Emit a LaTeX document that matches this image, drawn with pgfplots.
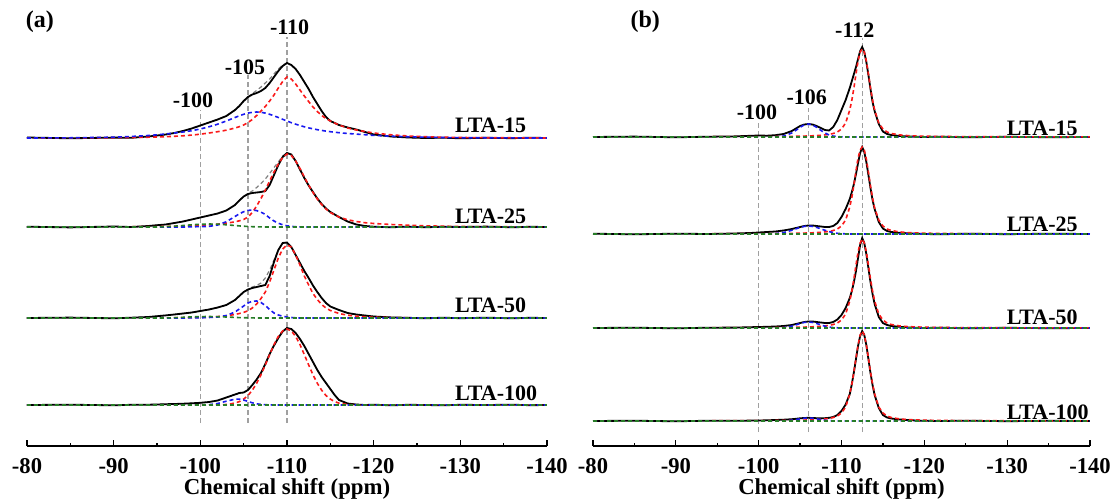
\documentclass[border=0pt]{standalone}
\usepackage{pgfplots}
\pgfplotsset{compat=1.18}
\usepackage{pgfplotstable}
\usepackage{fontspec}
\setmainfont{Liberation Serif}
\definecolor{myred}{RGB}{250,25,25}
\definecolor{myblue}{RGB}{25,25,240}
\definecolor{mygreen}{RGB}{40,125,40}
\definecolor{refgray}{RGB}{160,160,160}

% ---------- panel (a) ----------
\pgfplotstableread{
x k r b f
-80 0.5 0 0 0.5
-85 -0.3 0.1 0.2 -0.3
-90 0.4 0.3 0.8 0.4
-92 0.2 0.5 1.5 0.2
-94 1.5 0.8 2.5 1.5
-95 2.5 1.0 3.2 2.5
-96 3.5 1.3 4.0 3.5
-97 5 1.7 5.0 5
-98 7 2.2 6.0 7
-99 9.5 2.9 7.3 9.5
-100 12.5 3.8 9.0 12.5
-101 15.5 5.0 11.2 15.5
-102 18.5 6.3 13.8 18.5
-103 22 7.8 17.0 22
-104 28 10 20.5 28
-104.5 32 11.3 22.2 32
-105 37 13 23.7 37
-105.5 41 15.5 24.9 41
-106 43.5 18.5 25.7 44.5
-106.5 45 22.5 26 47.5
-107 47 27 25.7 51
-107.5 50 31.5 24.9 55
-108 55 37 23.7 59
-108.5 61 43 22.2 64
-109 67 50 20.5 69
-109.5 72 56.5 18.7 73
-110 75 61 17.0 75
-110.5 73 59 15.3 73
-111 69 54 13.8 69
-111.5 63 48 12.5 63
-112 56 42 11.2 56
-112.5 49 36.5 10.1 49
-113 41 31 9.2 41
-113.5 34 26.5 8.3 34
-114 27 22.5 7.6 27
-114.5 21 19.5 6.9 21
-115 17 17 6.3 17
-116 13 13 5.3 13
-117 10.5 10 4.5 10.5
-118 8.5 8 3.9 8.5
-119 6 6.5 3.3 6
-120 3.5 5 2.6 3.5
-122 1.5 3.2 1.8 1.5
-124 0.5 2.0 1.2 0.5
-126 0 1.3 0.8 0
-128 0.3 0.8 0.5 0.3
-130 -0.3 0.5 0.3 -0.3
-133 0.2 0.3 0.2 0.2
-136 -0.2 0.2 0.1 -0.2
-138 0.3 0.1 0 0.3
-140 0 0 0 0
}\aA

\pgfplotstableread{
x k r b g f
-80 0.3 0 0 0 0.3
-85 -0.4 0 0 0 -0.4
-90 0.5 0.1 0 0 0.5
-92 0 0.2 0 0 0
-94 1 0.3 0 0 1
-95 1.8 0.4 0 0 1.8
-96 2.5 0.5 0 0.3 2.5
-97 4 0.7 0 0.8 4
-98 5.5 0.9 0 1.5 5.5
-99 7.5 1.2 0.2 2.2 7.5
-100 9.5 1.6 0.4 2.8 9.5
-101 11.5 2.1 0.6 3 11.5
-102 13.5 2.8 2 2.8 13.5
-103 16.5 3.8 5.3 2.2 16.5
-104 22 5.2 10.5 1.5 22
-104.5 26.5 6.2 13.2 1.1 26.5
-105 30.5 7.5 15.3 0.8 30.5
-105.5 33 10 16.6 0.5 33.5
-106 34 14.5 17 0.3 36
-106.5 34.5 21 16.4 0.2 39.5
-107 35 28.5 14.8 0.1 43.5
-107.5 36 37 12.6 0 48
-108 42 46 9 0 53.5
-108.5 52 55 6 0 59.5
-109 62 63 3.8 0 65
-109.5 70 69.5 2.2 0 71
-110 74 73 1.2 0 74
-110.5 72.5 71.5 0.6 0 72.5
-111 66 66 0.3 0 66
-111.5 57.5 58.5 0.1 0 57.5
-112 49 50 0 0 49
-112.5 41.5 42 0 0 41.5
-113 35 34.5 0 0 35
-113.5 28.5 28 0 0 28.5
-114 23 22.5 0 0 23
-114.5 18.5 18 0 0 18.5
-115 15 14.5 0 0 15
-116 10 10 0 0 10
-117 5.5 7.2 0 0 5.5
-118 2.5 5.5 0 0 2.5
-119 1 4.3 0 0 1
-120 0.3 3.5 0 0 0.3
-122 -0.3 2.5 0 0 -0.3
-124 0.4 1.8 0 0 0.4
-126 -0.3 1.2 0 0 -0.3
-128 0.3 0.8 0 0 0.3
-130 0 0.5 0 0 0
-133 0.4 0.3 0 0 0.4
-136 -0.3 0.2 0 0 -0.3
-138 0.2 0.1 0 0 0.2
-140 0 0 0 0 0
}\aB

\pgfplotstableread{
x k r b g f
-80 0 0 0 0 0
-85 0.4 0 0 0 0.4
-90 -0.3 0 0 0 -0.3
-92 0.3 0 0 0 0.3
-94 1 0 0 0 1
-95 1.8 0.1 0 0 1.8
-96 2.6 0.1 0 0 2.6
-97 3.5 0.2 0 0.3 3.5
-98 4.5 0.3 0 0.7 4.5
-99 5.5 0.4 0.1 1.1 5.5
-100 7 0.6 0.2 1.4 7
-101 8.5 0.9 0.5 1.5 8.5
-102 10.5 1.4 1 1.3 10.5
-103 13 2.2 2.5 1 13
-104 18 3.5 6 0.6 18
-104.5 22 4.5 9 0.4 22
-105 26 5.6 12 0.3 26
-105.5 28.5 7.2 15 0.2 28.5
-106 30 10 16.8 0.1 31
-106.5 31 14 17 0 32.5
-107 32 19.5 15.5 0 35
-107.5 33 26 12.5 0 40
-108 42 36 8.5 0 48
-108.5 56 48 5 0 58
-109 68 60 3 0 68
-109.5 75 69 1.8 0 75
-110 75.5 73 1 0 75.5
-110.5 71 71 0.5 0 71
-111 63 63 0.2 0 63
-111.5 55 53 0 0 55
-112 47 42 0 0 47
-112.5 40 33 0 0 40
-113 32.5 24.5 0 0 32.5
-113.5 26 18.5 0 0 26
-114 20 13.5 0 0 20
-114.5 15 10 0 0 15
-115 11.5 7.5 0 0 11.5
-116 8 4.5 0 0 8
-117 5 2.8 0 0 5
-118 3.5 1.8 0 0 3.5
-119 2.5 1.2 0 0 2.5
-120 1.5 0.8 0 0 1.5
-122 0.6 0.4 0 0 0.6
-124 0.2 0.2 0 0 0.2
-126 -0.3 0.1 0 0 -0.3
-128 0.3 0 0 0 0.3
-130 -0.2 0 0 0 -0.2
-133 0.3 0 0 0 0.3
-136 -0.3 0 0 0 -0.3
-138 0.2 0 0 0 0.2
-140 0 0 0 0 0
}\aC

\pgfplotstableread{
x k r b f
-80 0 0 0 0
-85 0.3 0 0 0.3
-90 -0.3 0 0 -0.3
-92 0.2 0 0 0.2
-94 0.3 0 0 0.3
-95 0.5 0 0 0.5
-96 0.8 0 0 0.8
-97 1 0 0 1
-98 1.3 0 0 1.3
-99 1.7 0 0 1.7
-100 2.2 0 0 2.2
-101 3 0 0.3 3
-102 4.5 0.1 1.5 4.5
-103 7.5 0.5 3.8 7.5
-104 10.5 1.9 5.8 10.5
-104.5 12 3.4 5.9 12
-105 12.5 5.9 5 12.5
-105.5 15 9.5 3.6 15
-106 20 14.8 2.2 20
-106.5 25.5 21.7 1.2 25.5
-107 32 30.2 0.6 32
-107.5 41 40.1 0.3 41
-108 51 50.4 0.1 51
-108.5 59.5 60.4 0 59.5
-109 67 68.6 0 67
-109.5 73.5 74.1 0 73.5
-110 77 76 0 77
-110.5 76 74.1 0 76
-111 72 68.6 0 72
-111.5 66 60.4 0 66
-112 59 50.4 0 59
-112.5 51 40.1 0 51
-113 43 30.2 0 43
-113.5 35 21.7 0 35
-114 28 14.8 0 28
-114.5 22 9.5 0 22
-115 16 5.9 0 16
-115.5 10 3.4 0 10
-116 5 1.9 0 5
-117 1.5 0.5 0 1.5
-118 0.5 0.1 0 0.5
-119 0 0 0 0
-120 0.3 0 0 0.3
-122 -0.3 0 0 -0.3
-124 0.2 0 0 0.2
-126 0 0 0 0
-128 -0.3 0 0 -0.3
-130 0.2 0 0 0.2
-133 0 0 0 0
-136 0.3 0 0 0.3
-138 -0.2 0 0 -0.2
-140 0 0 0 0
}\aD

% ---------- panel (b) ----------
\pgfplotstableread{
x k r b
-80 0 0.1 0
-85 0.4 0.1 0
-90 -0.3 0.15 0
-94 0.3 0.2 0
-97 0.6 0.25 0
-99 1.2 0.3 0
-100 1.5 0.35 0
-101 1.3 0.4 0
-102 1.8 0.45 0.1
-103 3 0.55 0.9
-104 6 0.65 4.0
-104.5 8.5 0.7 6.7
-105 11 0.8 9.7
-105.5 12.5 0.9 12.1
-106 13 1.05 13
-106.5 12.5 1.2 12.1
-107 11 1.4 9.7
-107.5 9 1.7 6.7
-108 7 2.1 4.0
-108.5 6.5 2.6 2.0
-109 10 3.5 0.9
-109.5 17 5 0.35
-110 27 8 0.1
-110.5 37 14 0
-111 49 27 0
-111.25 56 37 0
-111.5 63 49 0
-111.75 70 63 0
-112 78 76 0
-112.25 86 85 0
-112.5 90 88 0
-112.75 85 85 0
-113 75 76 0
-113.25 62 63 0
-113.5 48 49 0
-113.75 35 37 0
-114 26 27 0
-114.5 13 14 0
-115 5.5 8 0
-115.5 3 5 0
-116 2 3.5 0
-117 1 2.1 0
-118 0.6 1.4 0
-119 0.3 1.05 0
-120 0 0.8 0
-122 0.3 0.55 0
-125 -0.3 0.35 0
-130 0.2 0.2 0
-135 -0.2 0.15 0
-140 0 0.1 0
}\bA

\pgfplotstableread{
x k r b
-80 0.3 0.1 0
-85 -0.3 0.1 0
-90 0.3 0.15 0
-94 0 0.2 0
-97 0.5 0.25 0
-99 1 0.3 0
-100 1.5 0.35 0
-101 2 0.4 0
-102 2.5 0.45 0.35
-103 3.5 0.55 1.4
-104 5 0.65 3.7
-104.5 6 0.7 5.2
-105 7 0.8 6.6
-105.5 8 0.9 7.6
-106 8.5 1.05 8
-106.5 8.5 1.2 7.6
-107 8 1.4 6.6
-107.5 7.5 1.7 5.2
-108 7 2.1 3.7
-108.5 7 2.6 2.4
-109 8 3.5 1.4
-109.5 11 5 0.7
-110 17 8 0.35
-110.5 25 14 0.15
-111 35 27 0
-111.25 42 37 0
-111.5 50 49 0
-111.75 60 63 0
-112 71 76 0
-112.25 81 84 0
-112.5 87 87 0
-112.75 82 84 0
-113 72 75 0
-113.25 59 62 0
-113.5 46 48 0
-113.75 34 36 0
-114 25 26 0
-114.5 12 14 0
-115 5.5 8 0
-115.5 3 5 0
-116 2 3.5 0
-117 1.2 2.1 0
-118 0.7 1.4 0
-119 0.3 1.05 0
-120 0 0.8 0
-122 -0.3 0.55 0
-125 0.3 0.35 0
-130 -0.2 0.2 0
-135 0.3 0.15 0
-140 0 0.1 0
}\bB

\pgfplotstableread{
x k r b
-80 0 0.1 0
-85 0.3 0.1 0
-90 -0.3 0.15 0
-94 0.3 0.2 0
-97 0.4 0.25 0
-99 0.8 0.3 0
-100 1 0.35 0
-101 1.2 0.4 0
-102 1.5 0.45 0
-103 2 0.55 0.4
-104 3 0.65 1.8
-104.5 4 0.7 3.1
-105 5 0.8 4.5
-105.5 6 0.9 5.6
-106 6.5 1.05 6
-106.5 6.5 1.2 5.6
-107 6 1.4 4.5
-107.5 5.5 1.7 3.1
-108 5 2.1 1.8
-108.5 5 2.6 0.9
-109 6 3.5 0.4
-109.5 8.5 5 0.2
-110 13 8 0
-110.5 20 14 0
-111 30 27 0
-111.25 37 37 0
-111.5 46 49 0
-111.75 57 63 0
-112 70 76 0
-112.25 83 85 0
-112.5 90 89 0
-112.75 85 85 0
-113 74 76 0
-113.25 60 63 0
-113.5 46 49 0
-113.75 34 37 0
-114 24 27 0
-114.5 11 14 0
-115 5 8 0
-115.5 3 5 0
-116 2 3.5 0
-117 1.2 2.1 0
-118 0.6 1.4 0
-119 0.3 1.05 0
-120 0 0.8 0
-122 0.3 0.55 0
-125 -0.3 0.35 0
-130 0.2 0.2 0
-135 -0.2 0.15 0
-140 0 0.1 0
}\bC

\pgfplotstableread{
x k r b
-80 0 0.1 0
-85 0.3 0.1 0
-90 -0.3 0.15 0
-94 0.3 0.2 0
-97 0.2 0.25 0
-99 0.4 0.3 0
-100 0.5 0.35 0
-101 0.7 0.4 0
-102 1 0.45 0
-103 1.3 0.55 0.13
-104 1.8 0.65 0.75
-104.5 2.2 0.7 1.4
-105 2.7 0.8 2.2
-105.5 3 0.9 2.75
-106 3.2 1.05 3
-106.5 3 1.2 2.75
-107 2.8 1.4 2.2
-107.5 2.6 1.7 1.4
-108 2.8 2.1 0.75
-108.5 3.2 2.6 0.34
-109 4 3.5 0.13
-109.5 6 5 0
-110 10 8 0
-110.5 16.5 14 0
-111 27 27 0
-111.25 37 37 0
-111.5 49 49 0
-111.75 62 63 0
-112 75 76 0
-112.25 85 86 0
-112.5 90 90 0
-112.75 86 86 0
-113 76 76 0
-113.25 62 63 0
-113.5 48 49 0
-113.75 36 37 0
-114 26 27 0
-114.5 13 14 0
-115 6 8 0
-115.5 3.5 5 0
-116 2.5 3.5 0
-117 1.5 2.1 0
-118 1 1.4 0
-119 0.5 1.05 0
-120 0.2 0.8 0
-122 0 0.55 0
-125 0.3 0.35 0
-130 -0.2 0.2 0
-135 0.2 0.15 0
-140 0 0.1 0
}\bD

\tikzset{
  lab/.style={font=\fontsize{11}{13}\selectfont\bfseries},
  plab/.style={font=\fontsize{12}{14}\selectfont\bfseries},
}
\pgfplotsset{
  nmr/.style={
    scale only axis, height=223pt,
    xmin=-140, xmax=-80, x dir=reverse, ymin=0, ymax=446,
    axis x line=bottom, axis y line=none,
    x axis line style={-, line width=0.6pt, black},
    xtick={-80,-90,-100,-110,-120,-130,-140},
    xticklabels={-80,-90,-100,-110,-120,-130,-140},
    minor x tick num=1,
    tick align=inside, major tick length=3pt, minor tick length=1.6pt,
    every tick/.style={line width=0.6pt, black},
    xticklabel style={font=\fontsize{11.3}{13}\selectfont\bfseries, anchor=center, inner sep=0pt, yshift=-10pt},
    xlabel={Chemical shift (ppm)},
    xlabel style={font=\fontsize{11.4}{13}\selectfont\bfseries, at={(axis description cs:0.5,0)}, anchor=center, inner sep=0pt, yshift=-21.5pt},
    clip=false,
  },
  blk/.style={black, line width=0.9pt},
  fitc/.style={gray, line width=0.6pt, dash pattern=on 2pt off 1.5pt},
  rd/.style={myred, line width=0.8pt, dash pattern=on 2pt off 1.5pt},
  bl/.style={myblue, line width=0.8pt, dash pattern=on 2pt off 1.5pt},
  gr/.style={mygreen, line width=0.8pt, dash pattern=on 2pt off 1.5pt},
  refl/.style={refgray, line width=0.6pt, dash pattern=on 2.5pt off 1.5pt},
}

\begin{document}
\begin{tikzpicture}
\path[use as bounding box] (0,0) rectangle (556.5pt,249.5pt);

% ======== (a) ========
\begin{axis}[nmr, width=260pt, at={(13.5pt,26.5pt)}, anchor=south west]
\addplot[refl] coordinates {(-100,23) (-100,336)};
\addplot[refl] coordinates {(-105.5,23) (-105.5,371)};
\addplot[refl] coordinates {(-110,23) (-110,409)};
% LTA-15
\addplot[fitc] table[x=x, y expr=\thisrow{f}+308] {\aA};
\addplot[blk] table[x=x, y expr=\thisrow{k}+308] {\aA};
\addplot[rd] table[x=x, y expr=\thisrow{r}+308] {\aA};
\addplot[bl] table[x=x, y expr=\thisrow{b}+308] {\aA};
% LTA-25
\addplot[fitc] table[x=x, y expr=\thisrow{f}+219] {\aB};
\addplot[blk] table[x=x, y expr=\thisrow{k}+219] {\aB};
\addplot[rd] table[x=x, y expr=\thisrow{r}+219] {\aB};
\addplot[bl] table[x=x, y expr=\thisrow{b}+219] {\aB};
\addplot[gr] table[x=x, y expr=\thisrow{g}+219] {\aB};
% LTA-50
\addplot[fitc] table[x=x, y expr=\thisrow{f}+128] {\aC};
\addplot[blk] table[x=x, y expr=\thisrow{k}+128] {\aC};
\addplot[rd] table[x=x, y expr=\thisrow{r}+128] {\aC};
\addplot[bl] table[x=x, y expr=\thisrow{b}+128] {\aC};
\addplot[gr] table[x=x, y expr=\thisrow{g}+128] {\aC};
% LTA-100
\addplot[fitc] table[x=x, y expr=\thisrow{f}+41] {\aD};
\addplot[blk] table[x=x, y expr=\thisrow{k}+41] {\aD};
\addplot[rd] table[x=x, y expr=\thisrow{r}+41] {\aD};
\addplot[bl] table[x=x, y expr=\thisrow{b}+41] {\aD};
\addplot[gr] coordinates {(-80,41) (-140,41)};

\node[lab, anchor=west] at (axis cs:-128.6,321) {LTA-15};
\node[lab, anchor=west] at (axis cs:-128.6,230) {LTA-25};
\node[lab, anchor=west] at (axis cs:-128.6,141) {LTA-50};
\node[lab, anchor=west] at (axis cs:-128.6,53) {LTA-100};
\node[lab] at (axis cs:-110.3,419) {-110};
\node[lab] at (axis cs:-105.15,379) {-105};
\node[lab] at (axis cs:-99.15,346) {-100};
\node[plab] at (axis cs:-81.5,424) {(a)};
\end{axis}

% ======== (b) ========
\begin{axis}[nmr, width=248.5pt, at={(296.5pt,26.5pt)}, anchor=south west]
\addplot[refl] coordinates {(-100,14) (-100,324)};
\addplot[refl] coordinates {(-106,14) (-106,338)};
\addplot[refl] coordinates {(-112.5,14) (-112.5,408)};
% LTA-15
\addplot[blk] table[x=x, y expr=\thisrow{k}+309] {\bA};
\addplot[rd] table[x=x, y expr=\thisrow{r}+309] {\bA};
\addplot[bl] table[x=x, y expr=\thisrow{b}+309] {\bA};
\addplot[gr] coordinates {(-80,309) (-140,309)};
% LTA-25
\addplot[blk] table[x=x, y expr=\thisrow{k}+212] {\bB};
\addplot[rd] table[x=x, y expr=\thisrow{r}+212] {\bB};
\addplot[bl] table[x=x, y expr=\thisrow{b}+212] {\bB};
\addplot[gr] coordinates {(-80,212) (-140,212)};
% LTA-50
\addplot[blk] table[x=x, y expr=\thisrow{k}+118] {\bC};
\addplot[rd] table[x=x, y expr=\thisrow{r}+118] {\bC};
\addplot[bl] table[x=x, y expr=\thisrow{b}+118] {\bC};
\addplot[gr] coordinates {(-80,118) (-140,118)};
% LTA-100
\addplot[blk] table[x=x, y expr=\thisrow{k}+25] {\bD};
\addplot[rd] table[x=x, y expr=\thisrow{r}+25] {\bD};
\addplot[bl] table[x=x, y expr=\thisrow{b}+25] {\bD};
\addplot[gr] coordinates {(-80,25) (-140,25)};

\node[lab, anchor=west] at (axis cs:-129.1,318) {LTA-15};
\node[lab, anchor=west] at (axis cs:-129.1,222) {LTA-25};
\node[lab, anchor=west] at (axis cs:-129.1,129) {LTA-50};
\node[lab, anchor=west] at (axis cs:-129.1,34) {LTA-100};
\node[lab] at (axis cs:-111.6,416) {-112};
\node[lab] at (axis cs:-105.8,349) {-106};
\node[lab] at (axis cs:-99.8,334) {-100};
\node[plab] at (axis cs:-86.3,424) {(b)};
\end{axis}
\end{tikzpicture}
\end{document}
